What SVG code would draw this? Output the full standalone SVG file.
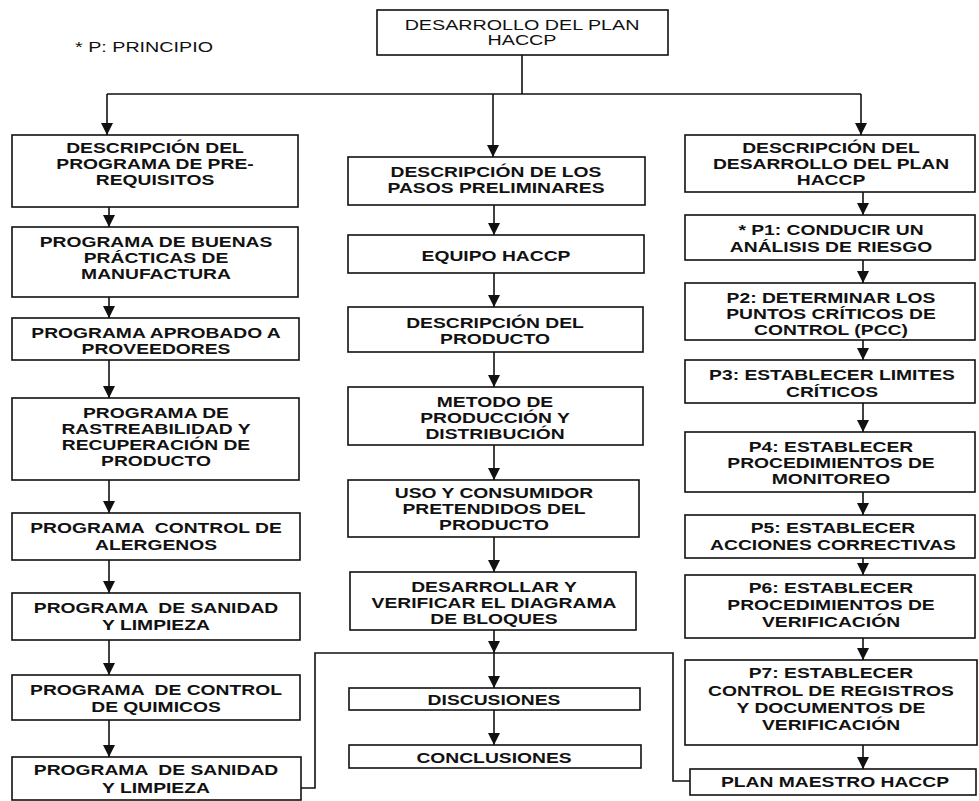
<svg xmlns="http://www.w3.org/2000/svg" width="979" height="801" viewBox="0 0 979 801">
<defs>
<style>
.box{fill:#fff;stroke:#111;stroke-width:1.6}
.ln{fill:none;stroke:#111;stroke-width:1.6}
.ar{fill:none;stroke:#111;stroke-width:1.6;marker-end:url(#ah)}
.t{font-family:"Liberation Sans",Arial,sans-serif;font-weight:bold;font-size:14.5px;fill:#111;text-anchor:middle}
.r{font-family:"Liberation Sans",Arial,sans-serif;font-weight:normal;font-size:14.5px;fill:#111;text-anchor:middle}
.n{font-family:"Liberation Sans",Arial,sans-serif;font-weight:normal;font-size:14.5px;fill:#111;text-anchor:start}
</style>
<marker id="ah" markerUnits="userSpaceOnUse" markerWidth="12" markerHeight="12" refX="12" refY="6" orient="auto" viewBox="0 0 12 12">
<path d="M0,0 L12,6 L0,12 z" fill="#111"/>
</marker>
</defs>
<rect width="979" height="801" fill="#fff"/>

<g id="legend">
<text class="n" transform="translate(75 0) scale(1.36 1)" y="52">* P: PRINCIPIO</text>
</g>

<g id="top">
<rect class="box" x="377" y="10" width="291" height="45"/>
<text class="r" transform="translate(522 0) scale(1.36 1)"><tspan x="0" y="30">DESARROLLO DEL PLAN</tspan><tspan x="0" y="45">HACCP</tspan></text>
</g>

<g id="connectors">
<path class="ln" d="M522,55 V94 M107,94 H861"/>
<path class="ar" d="M107,94 V135"/>
<path class="ar" d="M493,94 V157"/>
<path class="ar" d="M861,94 V135"/>
<path class="ar" d="M109,207 V227"/>
<path class="ar" d="M109,297 V318"/>
<path class="ar" d="M109,360 V398"/>
<path class="ar" d="M109,480 V513"/>
<path class="ar" d="M109,560 V593"/>
<path class="ar" d="M109,640 V675"/>
<path class="ar" d="M109,720 V757"/>
<path class="ar" d="M494,205 V235"/>
<path class="ar" d="M494,273 V307"/>
<path class="ar" d="M494,352 V387"/>
<path class="ar" d="M494,445 V480"/>
<path class="ar" d="M494,537 V572"/>
<path class="ar" d="M494,630 V653"/>
<path class="ar" d="M494,653 V688"/>
<path class="ar" d="M494,710 V745"/>
<path class="ar" d="M863,192 V215"/>
<path class="ar" d="M863,260 V283"/>
<path class="ar" d="M863,340 V360"/>
<path class="ar" d="M863,403 V432"/>
<path class="ar" d="M863,492 V515"/>
<path class="ar" d="M863,558 V575"/>
<path class="ar" d="M863,638 V660"/>
<path class="ar" d="M863,745 V769"/>
<path class="ln" d="M300,788 H315 V653 H673 V781 H690"/>
</g>

<g id="l1"><rect class="box" x="12" y="135" width="286" height="72"/>
<text class="t" transform="translate(155 0) scale(1.33 1)"><tspan x="0" y="153">DESCRIPCIÓN DEL</tspan><tspan x="0" y="169">PROGRAMA DE PRE-</tspan><tspan x="0" y="185">REQUISITOS</tspan></text></g>
<g id="l2"><rect class="box" x="12" y="227" width="286" height="70"/>
<text class="t" transform="translate(156 0) scale(1.33 1)"><tspan x="0" y="247">PROGRAMA DE BUENAS</tspan><tspan x="0" y="263">PRÁCTICAS DE</tspan><tspan x="0" y="279">MANUFACTURA</tspan></text></g>
<g id="l3"><rect class="box" x="12" y="318" width="287" height="42"/>
<text class="t" transform="translate(156 0) scale(1.33 1)"><tspan x="0" y="338">PROGRAMA APROBADO A</tspan><tspan x="0" y="354">PROVEEDORES</tspan></text></g>
<g id="l4"><rect class="box" x="12" y="398" width="287" height="82"/>
<text class="t" transform="translate(156 0) scale(1.33 1)"><tspan x="0" y="418">PROGRAMA DE</tspan><tspan x="0" y="434">RASTREABILIDAD Y</tspan><tspan x="0" y="450">RECUPERACIÓN DE</tspan><tspan x="0" y="466">PRODUCTO</tspan></text></g>
<g id="l5"><rect class="box" x="12" y="513" width="288" height="47"/>
<text class="t" transform="translate(156 0) scale(1.33 1)"><tspan x="0" y="533">PROGRAMA &#160;CONTROL DE</tspan><tspan x="0" y="550">ALERGENOS</tspan></text></g>
<g id="l6"><rect class="box" x="12" y="593" width="288" height="47"/>
<text class="t" transform="translate(156 0) scale(1.33 1)"><tspan x="0" y="613">PROGRAMA &#160;DE SANIDAD</tspan><tspan x="0" y="630">Y LIMPIEZA</tspan></text></g>
<g id="l7"><rect class="box" x="12" y="675" width="288" height="45"/>
<text class="t" transform="translate(156 0) scale(1.33 1)"><tspan x="0" y="695">PROGRAMA &#160;DE CONTROL</tspan><tspan x="0" y="712">DE QUIMICOS</tspan></text></g>
<g id="l8"><rect class="box" x="12" y="757" width="289" height="43"/>
<text class="t" transform="translate(156 0) scale(1.33 1)"><tspan x="0" y="775">PROGRAMA &#160;DE SANIDAD</tspan><tspan x="0" y="793">Y LIMPIEZA</tspan></text></g>

<g id="m1"><rect class="box" x="348" y="157" width="297" height="48"/>
<text class="t" transform="translate(496 0) scale(1.33 1)"><tspan x="0" y="177">DESCRIPCIÓN DE LOS</tspan><tspan x="0" y="193">PASOS PRELIMINARES</tspan></text></g>
<g id="m2"><rect class="box" x="348" y="235" width="296" height="38"/>
<text class="t" transform="translate(496 0) scale(1.33 1)"><tspan x="0" y="261">EQUIPO HACCP</tspan></text></g>
<g id="m3"><rect class="box" x="348" y="307" width="295" height="45"/>
<text class="t" transform="translate(495 0) scale(1.33 1)"><tspan x="0" y="328">DESCRIPCIÓN DEL</tspan><tspan x="0" y="344">PRODUCTO</tspan></text></g>
<g id="m4"><rect class="box" x="348" y="387" width="295" height="58"/>
<text class="t" transform="translate(495 0) scale(1.33 1)"><tspan x="0" y="407">METODO DE</tspan><tspan x="0" y="423">PRODUCCIÓN Y</tspan><tspan x="0" y="439">DISTRIBUCIÓN</tspan></text></g>
<g id="m5"><rect class="box" x="348" y="480" width="291" height="57"/>
<text class="t" transform="translate(494 0) scale(1.33 1)"><tspan x="0" y="498">USO Y CONSUMIDOR</tspan><tspan x="0" y="514">PRETENDIDOS DEL</tspan><tspan x="0" y="530">PRODUCTO</tspan></text></g>
<g id="m6"><rect class="box" x="350" y="572" width="286" height="58"/>
<text class="t" transform="translate(494 0) scale(1.33 1)"><tspan x="0" y="592">DESARROLLAR Y</tspan><tspan x="0" y="608">VERIFICAR EL DIAGRAMA</tspan><tspan x="0" y="624">DE BLOQUES</tspan></text></g>
<g id="m7"><rect class="box" x="349" y="688" width="291" height="22"/>
<text class="t" transform="translate(494 0) scale(1.33 1)"><tspan x="0" y="705">DISCUSIONES</tspan></text></g>
<g id="m8"><rect class="box" x="349" y="745" width="292" height="23"/>
<text class="t" transform="translate(494 0) scale(1.33 1)"><tspan x="0" y="763">CONCLUSIONES</tspan></text></g>

<g id="r1"><rect class="box" x="685" y="135" width="290" height="57"/>
<text class="t" transform="translate(831 0) scale(1.33 1)"><tspan x="0" y="153">DESCRIPCIÓN DEL</tspan><tspan x="0" y="169">DESARROLLO DEL PLAN</tspan><tspan x="0" y="185">HACCP</tspan></text></g>
<g id="r2"><rect class="box" x="685" y="215" width="290" height="45"/>
<text class="t" transform="translate(831 0) scale(1.33 1)"><tspan x="0" y="235">* P1: CONDUCIR UN</tspan><tspan x="0" y="252">ANÁLISIS DE RIESGO</tspan></text></g>
<g id="r3"><rect class="box" x="685" y="283" width="290" height="57"/>
<text class="t" transform="translate(831 0) scale(1.33 1)"><tspan x="0" y="303">P2: DETERMINAR LOS</tspan><tspan x="0" y="319">PUNTOS CRÍTICOS DE</tspan><tspan x="0" y="335">CONTROL (PCC)</tspan></text></g>
<g id="r4"><rect class="box" x="685" y="360" width="290" height="43"/>
<text class="t" transform="translate(832 0) scale(1.33 1)"><tspan x="0" y="380">P3: ESTABLECER LIMITES</tspan><tspan x="0" y="397">CRÍTICOS</tspan></text></g>
<g id="r5"><rect class="box" x="685" y="432" width="290" height="60"/>
<text class="t" transform="translate(831 0) scale(1.33 1)"><tspan x="0" y="452">P4: ESTABLECER</tspan><tspan x="0" y="468">PROCEDIMIENTOS DE</tspan><tspan x="0" y="484">MONITOREO</tspan></text></g>
<g id="r6"><rect class="box" x="685" y="515" width="290" height="43"/>
<text class="t" transform="translate(833 0) scale(1.33 1)"><tspan x="0" y="533">P5: ESTABLECER</tspan><tspan x="0" y="550">ACCIONES CORRECTIVAS</tspan></text></g>
<g id="r7"><rect class="box" x="685" y="575" width="290" height="63"/>
<text class="t" transform="translate(831 0) scale(1.33 1)"><tspan x="0" y="593">P6: ESTABLECER</tspan><tspan x="0" y="610">PROCEDIMIENTOS DE</tspan><tspan x="0" y="627">VERIFICACIÓN</tspan></text></g>
<g id="r8"><rect class="box" x="685" y="660" width="292" height="85"/>
<text class="t" transform="translate(831 0) scale(1.33 1)"><tspan x="0" y="678">P7: ESTABLECER</tspan><tspan x="0" y="696">CONTROL DE REGISTROS</tspan><tspan x="0" y="713">Y DOCUMENTOS DE</tspan><tspan x="0" y="730">VERIFICACIÓN</tspan></text></g>
<g id="r9"><rect class="box" x="690" y="769" width="286" height="26"/>
<text class="t" transform="translate(835 0) scale(1.33 1)"><tspan x="0" y="787">PLAN MAESTRO HACCP</tspan></text></g>
</svg>
